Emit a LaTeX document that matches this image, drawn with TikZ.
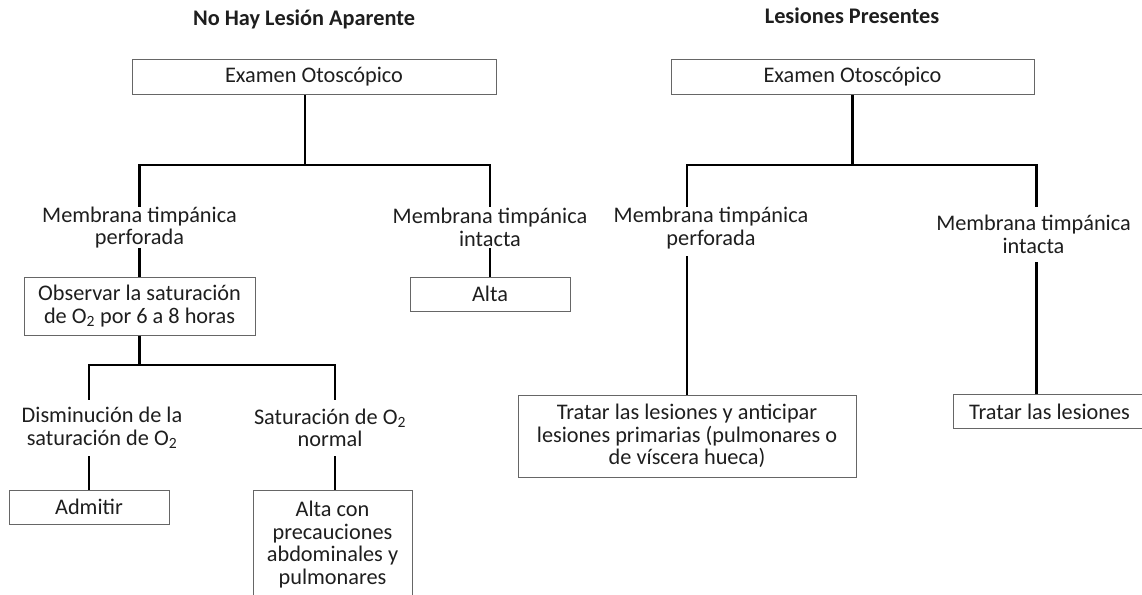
\documentclass[tikz,border=0pt]{standalone}
\usepackage{fontspec}
\setmainfont{Carlito}
\definecolor{boxgray}{HTML}{666666}
\definecolor{txtgray}{HTML}{1E1E1E}
\tikzset{
  basefont/.style={font=\fontsize{22.3}{22.5}\selectfont, text=txtgray},
  ttl/.style={basefont, font=\fontsize{22.3}{22.5}\selectfont\bfseries, inner sep=0pt},
  box/.style={basefont, draw=boxgray, line width=1pt, inner sep=0pt, align=center},
  lbl/.style={basefont, inner sep=0pt, align=center},
  conn/.style={line width=2.8pt, black}
}
\begin{document}
\begin{tikzpicture}[x=1pt,y=-1pt]
\useasboundingbox (0,0) rectangle (1142,594);
\clip (0,0) rectangle (1142,594);
% titles
\node[ttl] (t1) at (304,19) {No Hay Lesión Aparente};
\node[ttl] (t2) at (852,16) {Lesiones Presentes};
% left tree
\node[box, minimum width=364pt, minimum height=35pt] (e1) at (314,77) {Examen Otoscópico};
\coordinate (j1) at (305,165);
\node[lbl, minimum height=41pt] (m1) at (139.5,227.5) {Membrana timpánica\\perforada};
\node[lbl, minimum height=41pt] (m2) at (490,227.5) {Membrana timpánica\\intacta};
\node[box, minimum width=231pt, minimum height=58pt] (o1) at (139.5,306) {Observar la saturación\\de O\textsubscript{2} por 6 a 8 horas};
\node[box, minimum width=160pt, minimum height=34pt] (a1) at (490,294) {Alta};
\coordinate (j2) at (139.5,365);
\coordinate (cA) at (89,365);
\coordinate (cB) at (335,365);
\node[lbl, minimum height=56pt] (d1) at (102,428) {Disminución de la\\saturación de O\textsubscript{2}};
\node[lbl, minimum height=56pt] (d2) at (330,428) {Saturación de O\textsubscript{2}\\normal};
\node[box, minimum width=160pt, minimum height=34pt] (ad) at (89,507) {Admitir};
\node[box, minimum width=159pt, minimum height=109pt] (ac) at (332.5,544.5) {Alta con\\precauciones\\abdominales y\\pulmonares};
% right tree
\node[box, minimum width=363pt, minimum height=35pt] (e2) at (852.5,77) {Examen Otoscópico};
\coordinate (j3) at (852.5,165);
\coordinate (cC) at (1036.5,165);
\node[lbl, minimum height=41pt] (n1) at (711,228) {Membrana timpánica\\perforada};
\node[lbl, minimum height=55pt] (n2) at (1033.5,234.5) {Membrana timpánica\\intacta};
\node[box, minimum width=338pt, minimum height=82pt] (tl) at (687,436) {Tratar las lesiones y anticipar\\lesiones primarias (pulmonares o\\de víscera hueca)};
\node[box, minimum width=240pt, minimum height=33.5pt] (ts) at (1073,411.5) {\hspace*{-47pt}Tratar las lesiones};
% connectors left
\draw[conn] (e1.south -| j1) -- (j1);
\draw[conn] (m1.north) |- (j1) -| (m2.north);
\draw[conn] (m1.south) -- (o1.north);
\draw[conn] (m2.south) -- (a1.north);
\draw[conn] (o1.south) -- (j2);
\draw[conn] (d1.north -| cA) |- (j2) -| (d2.north -| cB);
\draw[conn] (d1.south -| cA) -- (ad.north -| cA);
\draw[conn] (d2.south -| cB) -- (ac.north -| cB);
% connectors right
\draw[conn] (e2.south) -- (j3);
\draw[conn] (n1.north -| tl.north) |- (j3) -| (n2.north -| cC);
\draw[conn] ([yshift=-7.5pt]n1.south -| tl.north) -- (tl.north);
\draw[conn] (n2.south -| cC) -- (ts.north -| cC);
\end{tikzpicture}
\end{document}
